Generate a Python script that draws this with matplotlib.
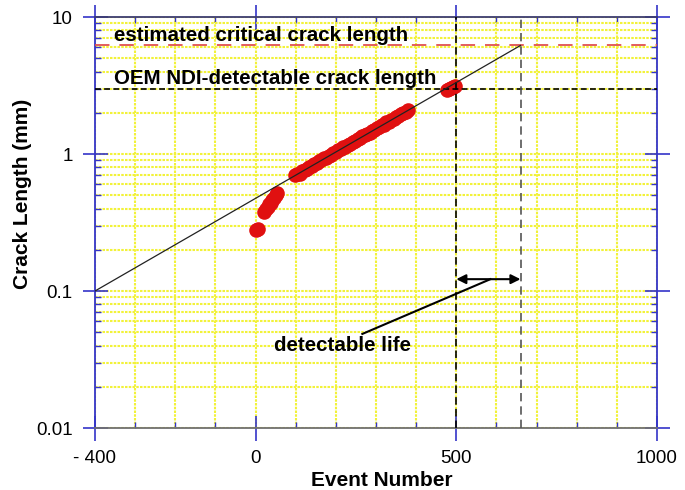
import matplotlib
matplotlib.use('Agg')
import matplotlib.pyplot as plt
from matplotlib.ticker import FixedLocator, LogLocator, NullFormatter, MultipleLocator

plt.rcParams['font.family'] = ['Liberation Sans', 'DejaVu Sans']

# crack measurements per event
events = [0, 5,
          22, 26, 30, 34, 38, 42, 46, 50, 54,
          98, 104, 110, 116, 122, 128, 134, 140, 146, 152, 158, 164,
          170, 176, 182, 188, 194, 200, 206, 212, 218, 224, 230, 236,
          242, 248, 254, 260, 266, 272, 278, 284, 290, 296, 302, 308,
          314, 320, 326, 332, 338, 344, 350, 356, 362, 368, 374, 380,
          476, 481, 486, 491, 496]
crack_mm = [0.28, 0.285,
            0.38, 0.40, 0.41, 0.43, 0.44, 0.46, 0.48, 0.50, 0.52,
            0.70, 0.72, 0.72, 0.75, 0.77, 0.78, 0.81, 0.82, 0.85, 0.86, 0.89, 0.90,
            0.93, 0.94, 0.97, 0.98, 1.02, 1.03, 1.07, 1.09, 1.12, 1.13, 1.17, 1.19,
            1.23, 1.25, 1.29, 1.30, 1.35, 1.37, 1.41, 1.43, 1.48, 1.50, 1.55, 1.57,
            1.62, 1.64, 1.70, 1.72, 1.78, 1.81, 1.86, 1.89, 1.95, 1.98, 2.04, 2.08,
            2.92, 2.98, 3.03, 3.08, 3.13]

# exponential growth trend (end points)
trend_x = [-400, 660]
trend_y = [0.1, 6.2]

critical_len = 6.2
detectable_len = 3.0
detect_event = 500
critical_event = 660

xticks = [-400, 0, 500, 1000]
xtick_labels = ['- 400', '0', '500', '1000']
yticks = [0.01, 0.1, 1, 10]
ytick_labels = ['0.01', '0.1', '1', '10']

blue = '#3434C8'
yellow = '#F2F23A'

fig = plt.figure(figsize=(6.85, 4.9), dpi=100)
ax = fig.add_axes([95 / 685, 62 / 490, 562 / 685, 411 / 490])

ax.set_yscale('log')
ax.set_xlim(-400, 1000)
ax.set_ylim(0.01, 10)

ax.xaxis.set_major_locator(FixedLocator(xticks))
ax.set_xticklabels(xtick_labels)
ax.xaxis.set_minor_locator(MultipleLocator(100))
ax.yaxis.set_major_locator(FixedLocator(yticks))
ax.set_yticklabels(ytick_labels)
ax.yaxis.set_minor_locator(LogLocator(base=10, subs=range(2, 10)))
ax.yaxis.set_minor_formatter(NullFormatter())

ax.grid(which='both', color=yellow, linestyle=(0, (1.2, 0.6)), linewidth=1.5, zorder=0)
ax.set_axisbelow(True)

ax.tick_params(which='major', direction='inout', length=18, width=1.2, color=blue,
               top=True, right=True, labelsize=13.5, pad=7)
ax.tick_params(which='minor', direction='in', length=4, width=1, color=blue,
               top=True, right=True)

ax.spines['left'].set_color(blue)
ax.spines['right'].set_color(blue)
ax.spines['top'].set_color('#3C3C70')
ax.spines['bottom'].set_color('#707070')
for s in ax.spines.values():
    s.set_linewidth(1.3)

# reference lengths and events
ax.axhline(critical_len, color='#E05050', linestyle=(0, (8, 5.5)), linewidth=1.3, zorder=4)
ax.axhline(detectable_len, color='black', linestyle=(0, (3.5, 2)), linewidth=1.2, zorder=4)
ax.axvline(detect_event, color='black', linestyle=(0, (4.5, 2.5)), linewidth=1.2, zorder=4)
ax.axvline(critical_event, color='#555555', linestyle=(0, (5, 3)), linewidth=1.2, zorder=4)

ax.plot(events, crack_mm, 'o', color='#E01010', markersize=10.5, markeredgewidth=0, zorder=3)
ax.plot(trend_x, trend_y, color='#222222', linewidth=0.9, zorder=5)

ax.text(-352, 6.7, 'estimated critical crack length', fontsize=14.8, fontweight='bold',
        va='baseline', ha='left', zorder=6)
ax.text(-352, 3.24, 'OEM NDI-detectable crack length', fontsize=14.8, fontweight='bold',
        va='baseline', ha='left', zorder=6)

# detectable life span
ax.annotate('', xy=(detect_event, 0.122), xytext=(critical_event, 0.122),
            arrowprops=dict(arrowstyle='<|-|>', color='black', lw=1.5,
                            shrinkA=0, shrinkB=0, mutation_scale=14), zorder=6)
ax.plot([266, 585], [0.0486, 0.122], color='black', linewidth=1.5, zorder=6)
ax.text(45, 0.0365, 'detectable life', fontsize=14.8, fontweight='bold',
        va='baseline', ha='left', zorder=6)

ax.set_xlabel('Event Number', fontsize=15, fontweight='bold')
ax.set_ylabel('Crack Length (mm)', fontsize=15, fontweight='bold')
ax.xaxis.set_label_coords(0.511, -0.105)
ax.yaxis.set_label_coords(-0.112, 0.57)

fig.savefig('out.png', dpi=100)
